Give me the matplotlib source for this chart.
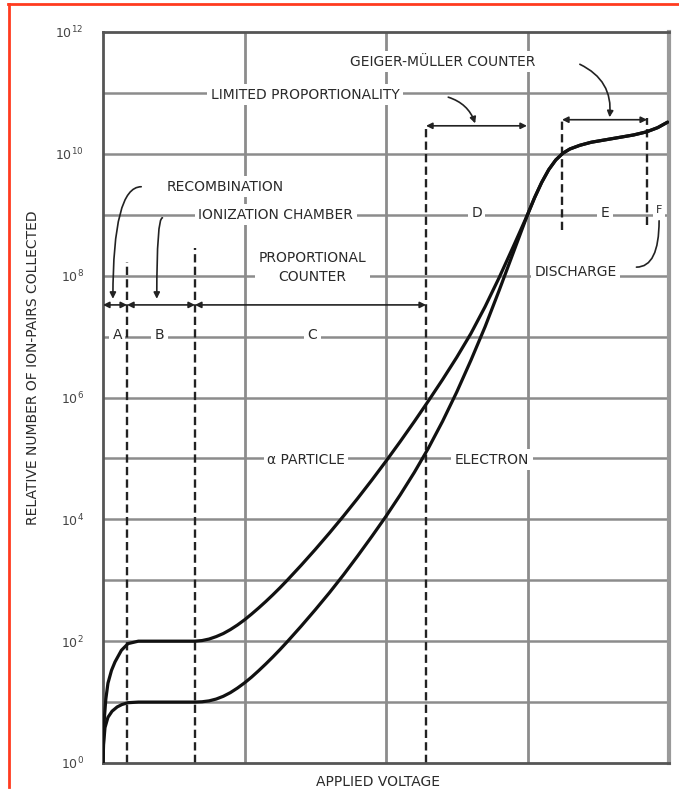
import matplotlib
matplotlib.use("Agg")
import matplotlib.pyplot as plt
from matplotlib.lines import Line2D
import numpy as np

# ---------------- data ----------------
# applied voltage (arbitrary units, 0..4) and log10(ion pairs collected)
alpha_v = [0.000, 0.004, 0.010, 0.020, 0.035, 0.060, 0.085, 0.130, 0.177, 0.250,
           0.650, 0.700, 0.750, 0.800, 0.850, 0.900, 0.950, 1.000, 1.050, 1.100,
           1.150, 1.200, 1.250, 1.300, 1.400, 1.500, 1.600, 1.700, 1.800, 1.900,
           2.000, 2.100, 2.200, 2.300, 2.400, 2.500, 2.600, 2.700, 2.800, 2.900,
           3.000, 3.050, 3.100, 3.150, 3.200, 3.250, 3.300, 3.370, 3.450, 3.600,
           3.750, 3.840, 3.920, 3.990]
alpha_log = [0.00, 0.45, 0.75, 1.05, 1.31, 1.52, 1.66, 1.85, 1.96, 2.00,
             2.00, 2.01, 2.035, 2.075, 2.125, 2.19, 2.265, 2.35, 2.445, 2.545,
             2.65, 2.76, 2.875, 2.995, 3.245, 3.505, 3.775, 4.055, 4.345, 4.645,
             4.955, 5.275, 5.605, 5.945, 6.295, 6.66, 7.05, 7.49, 7.97, 8.48,
             9.00, 9.28, 9.53, 9.74, 9.90, 10.01, 10.08, 10.14, 10.19, 10.25,
             10.31, 10.36, 10.43, 10.52]

electron_v = [0.000, 0.004, 0.014, 0.035, 0.064, 0.100, 0.134, 0.177, 0.250,
              0.650, 0.700, 0.750, 0.800, 0.850, 0.900, 0.950, 1.000, 1.050,
              1.100, 1.150, 1.200, 1.250, 1.300, 1.400, 1.500, 1.600, 1.700,
              1.800, 1.900, 2.000, 2.100, 2.200, 2.300, 2.400, 2.500, 2.600,
              2.700, 2.800, 2.900, 3.000, 3.050, 3.100, 3.150, 3.200, 3.250,
              3.300, 3.370, 3.450, 3.600, 3.750, 3.840, 3.920, 3.990]
electron_log = [0.00, 0.30, 0.58, 0.75, 0.85, 0.92, 0.96, 0.99, 1.00,
                1.00, 1.005, 1.02, 1.05, 1.095, 1.155, 1.23, 1.315, 1.41,
                1.515, 1.625, 1.74, 1.86, 1.985, 2.245, 2.515, 2.795, 3.09,
                3.40, 3.72, 4.05, 4.40, 4.77, 5.17, 5.61, 6.09, 6.61,
                7.16, 7.76, 8.38, 9.00, 9.28, 9.53, 9.74, 9.90, 10.01,
                10.08, 10.14, 10.19, 10.25, 10.31, 10.36, 10.43, 10.52]

# region boundaries (applied voltage)
boundary_v = [0.17, 0.65, 2.283, 3.244, 3.845]
region_letters = ["A", "B", "C", "D", "E", "F"]

ytick_exp = [0, 2, 4, 6, 8, 10, 12]
ytick_labels = [r"$10^{%d}$" % e for e in ytick_exp]

# ---------------- figure ----------------
plt.rcParams["font.family"] = ["DejaVu Sans"]
fig = plt.figure(figsize=(6.79, 7.96), dpi=100)
ax = fig.add_axes([103 / 679, 1 - 763 / 796, 566 / 679, 731 / 796])
ax.set_yscale("log")
ax.set_xlim(0, 4)
ax.set_ylim(1, 1e12)

TXT = "#2a2a2a"
GRID = "#8c8c8c"

for e in range(1, 12):
    ax.axhline(10.0 ** e, color=GRID, lw=1.8, zorder=1)
for v in (1, 2, 3):
    ax.axvline(v, color=GRID, lw=2.0, zorder=1)

for s in ax.spines.values():
    s.set_color("#555555")
    s.set_linewidth(2.0)
ax.spines["right"].set_color("#9a9a9a")
ax.spines["right"].set_linewidth(3.0)

ax.set_xticks([])
ax.set_yticks([10.0 ** e for e in ytick_exp])
ax.set_yticklabels(ytick_labels, fontsize=9, color="#444444")
ax.yaxis.set_minor_locator(matplotlib.ticker.NullLocator())
ax.tick_params(axis="y", length=0, pad=14)

# dashed boundary lines (top ends in log10 units)
dash_tops = [8.22, 8.46, 10.48, 10.59, 10.59]
dash_bottoms = [0.0, 0.0, 0.0, 8.75, 8.83]
for v, t, b in zip(boundary_v, dash_tops, dash_bottoms):
    ax.plot([v, v], [10 ** b, 10 ** t], color="#222222", lw=1.7,
            linestyle=(0, (3.5, 1.8)), zorder=2)

# curves
ax.plot(alpha_v, 10.0 ** np.array(alpha_log), color="#111111", lw=2.3, zorder=5,
        solid_capstyle="round", solid_joinstyle="round")
ax.plot(electron_v, 10.0 ** np.array(electron_log), color="#111111", lw=2.3, zorder=5,
        solid_capstyle="round", solid_joinstyle="round")

box = dict(boxstyle="square,pad=0.25", fc="white", ec="none")
fs = 10

def label(x, ylog, s, ha="center", size=fs, **kw):
    ax.text(x, 10 ** ylog, s, ha=ha, va="center", fontsize=size, color=TXT,
            bbox=box, zorder=3, **kw)

def arrow(x0, y0, x1, y1, conn, style="-|>"):
    ax.annotate("", xy=(x1, 10 ** y1), xytext=(x0, 10 ** y0),
                arrowprops=dict(arrowstyle=style, color="#222222", lw=1.2,
                                mutation_scale=9, connectionstyle=conn,
                                shrinkA=0, shrinkB=0),
                zorder=4)

# A / B / C bracket line
yb = 7.52
ends = [0.0] + boundary_v[:3]
for a, b in zip(ends[:-1], ends[1:]):
    arrow(a, yb, b, yb, "arc3", style="<|-|>")

# D and E brackets
arrow(boundary_v[2], 10.46, 2.996, 10.46, "arc3", style="<|-|>")
arrow(boundary_v[3], 10.56, boundary_v[4], 10.56, "arc3", style="<|-|>")

# region letters
label(0.10, 7.03, region_letters[0])
label(0.40, 7.03, region_letters[1])
label(1.48, 7.03, region_letters[2])
label(2.64, 9.03, region_letters[3])
label(3.55, 9.03, region_letters[4])
label(3.93, 9.08, region_letters[5], size=8)

# text labels
label(2.40, 11.51, "GEIGER-MÜLLER COUNTER")
label(1.43, 10.97, "LIMITED PROPORTIONALITY")
label(0.86, 9.46, "RECOMBINATION")
label(1.22, 9.00, "IONIZATION CHAMBER")
label(1.48, 8.13, "PROPORTIONAL\nCOUNTER", linespacing=1.5)
label(3.34, 8.06, "DISCHARGE")
label(1.16, 4.98, "α PARTICLE", ha="left")
label(2.75, 4.98, "ELECTRON")

# curved leader arrows
arrow(0.27, 9.46, 0.07, 7.62, "angle3,angleA=0,angleB=90")
arrow(0.42, 8.95, 0.38, 7.62, "angle3,angleA=0,angleB=90")
arrow(2.44, 10.93, 2.63, 10.50, "arc3,rad=-0.25")
arrow(3.37, 11.47, 3.58, 10.60, "arc3,rad=-0.35")
arrow(3.77, 8.14, 3.93, 8.90, "angle3,angleA=0,angleB=90", style="-")

# axis titles
fig.text(378 / 679, 1 - 782 / 796, "APPLIED VOLTAGE", ha="center", va="center",
         fontsize=fs, color=TXT)
fig.text(33 / 679, 1 - 368 / 796, "RELATIVE NUMBER OF ION-PAIRS COLLECTED",
         ha="center", va="center", rotation=90, fontsize=fs, color=TXT)

# red frame of the scan
red = "#ff3b1f"
fig.add_artist(Line2D([8 / 679, 1.0], [1 - 4 / 796, 1 - 4 / 796], color=red, lw=2.0))
fig.add_artist(Line2D([9 / 679, 9 / 679], [1 - 4 / 796, 1 - 787 / 796], color=red, lw=2.0))

fig.savefig("out.png", dpi=100)
